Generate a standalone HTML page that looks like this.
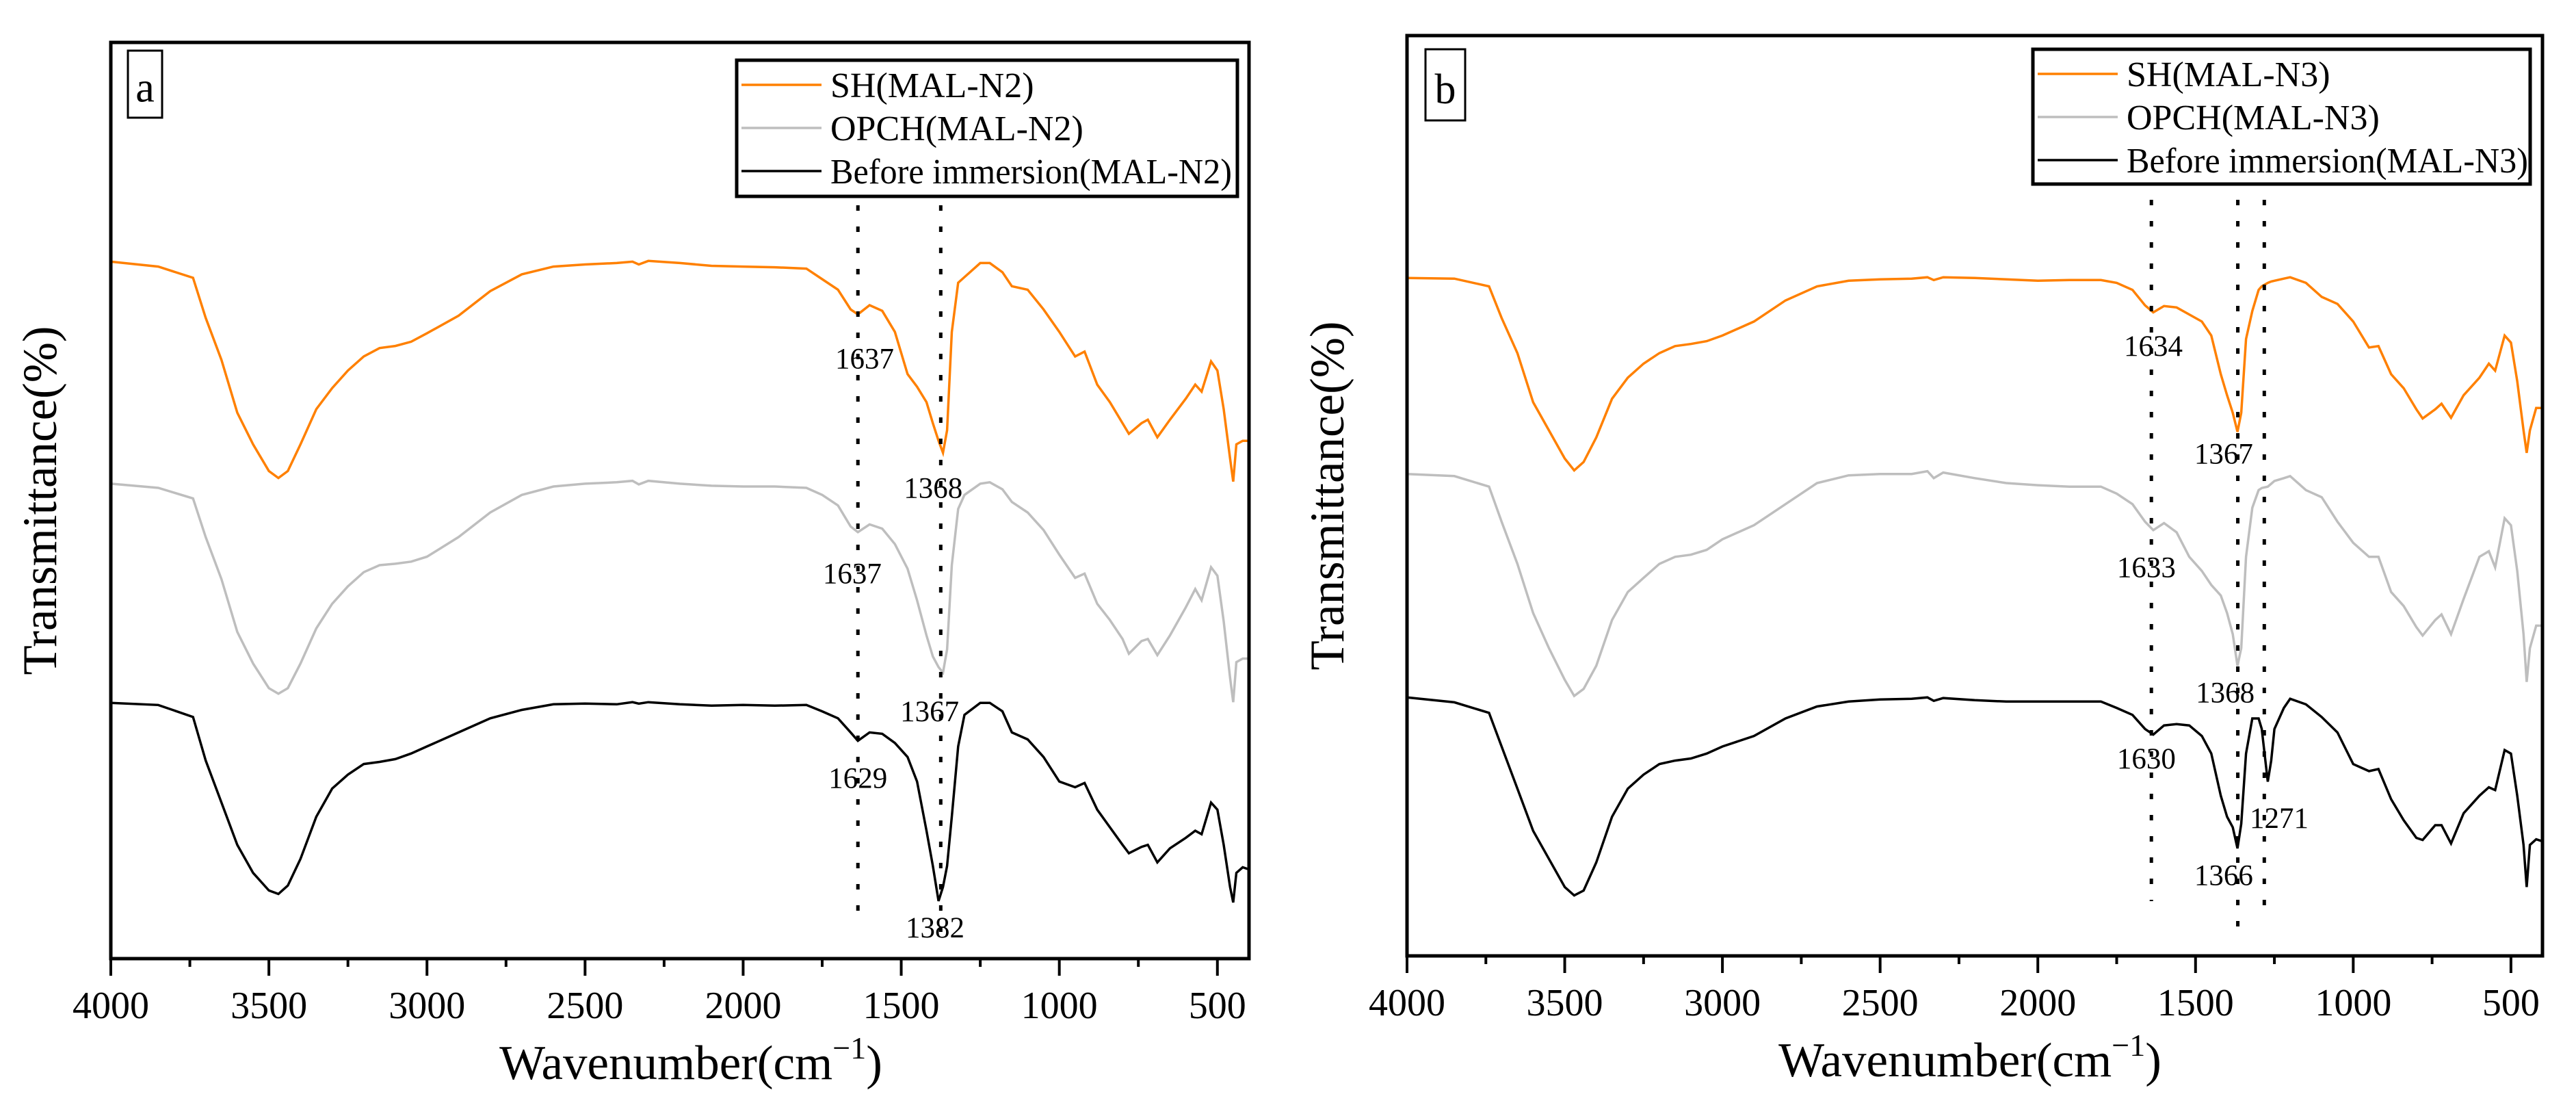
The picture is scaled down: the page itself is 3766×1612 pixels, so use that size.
<!DOCTYPE html>
<html><head><meta charset="utf-8"><style>
html,body{margin:0;padding:0;background:#fff;}
svg{display:block;font-family:"Liberation Serif",serif;}
</style></head><body>
<svg id="chart" width="3766" height="1612" viewBox="0 0 3766 1612" xmlns="http://www.w3.org/2000/svg"></svg>
<script>
// ---------- DATA ----------
const xTicks = [4000,3500,3000,2500,2000,1500,1000,500];
const xMinorTicks = [3750,3250,2750,2250,1750,1250,750];

const waveA = [4000,3850,3740,3700,3650,3600,3550,3500,3470,3440,3400,3350,3300,3250,3200,3150,3100,3050,3000,2900,2800,2700,2600,2500,2400,2350,2330,2300,2200,2100,2000,1900,1800,1750,1700,1660,1637,1600,1560,1520,1480,1450,1420,1400,1382,1368,1355,1340,1320,1300,1250,1220,1180,1150,1100,1050,1000,950,920,880,840,800,780,740,720,690,650,600,570,550,520,500,480,460,450,440,420,400];
const shA = [99.2,98.5,96.9,91.2,85.2,77.7,73.2,69.4,68.4,69.4,73.2,78.2,81.2,83.7,85.7,86.9,87.2,87.8,89.0,91.5,95.0,97.4,98.5,98.8,99.0,99.2,98.8,99.3,99.0,98.6,98.5,98.4,98.2,96.7,95.2,92.4,91.7,93.0,92.2,89.2,83.2,81.4,79.2,76.2,73.7,72.0,75.2,89.2,96.2,97.0,99.0,99.0,97.7,95.7,95.2,92.4,89.2,85.7,86.4,81.7,79.2,76.2,74.7,76.2,76.7,74.2,76.7,79.7,81.7,80.7,85.0,83.7,78.2,71.2,67.9,73.2,73.7,73.7];
const opchA = [67.6,67.0,65.5,60.0,54.0,46.5,42.0,38.5,37.7,38.5,42.0,47.0,50.5,53.0,55.0,56.0,56.2,56.5,57.2,60.0,63.5,66.0,67.2,67.6,67.8,68.0,67.5,68.0,67.6,67.3,67.2,67.2,67.0,66.0,64.5,61.5,60.7,61.8,61.2,59.0,55.5,51.0,46.0,43.0,41.5,40.7,44.0,56.0,64.0,66.0,67.6,67.8,66.8,65.0,63.5,61.0,57.5,54.2,54.8,50.5,48.2,45.5,43.4,45.2,45.5,43.2,46.0,50.0,52.6,51.0,55.7,54.5,48.0,40.0,36.5,42.2,42.7,42.7];
const beforeA = [36.4,36.1,34.4,28.2,22.2,16.2,12.2,9.7,9.2,10.4,14.2,20.2,24.2,26.2,27.7,28.0,28.4,29.2,30.2,32.2,34.2,35.4,36.2,36.3,36.2,36.5,36.3,36.5,36.2,36.0,36.1,36.0,36.1,35.2,34.2,32.2,31.0,32.2,32.0,30.7,28.7,25.2,18.2,13.2,8.2,10.2,13.2,20.2,30.2,34.7,36.4,36.4,35.2,32.2,31.2,28.7,25.2,24.4,25.0,21.2,18.7,16.2,15.0,15.9,16.2,13.7,15.7,17.2,18.2,17.7,22.2,21.2,16.2,10.2,8.0,12.2,13.0,12.7];

const waveB = [4000,3850,3740,3700,3650,3600,3550,3500,3470,3440,3400,3350,3300,3250,3200,3150,3100,3050,3000,2900,2800,2700,2600,2500,2400,2350,2330,2300,2200,2100,2000,1900,1800,1750,1700,1660,1634,1600,1560,1520,1480,1450,1420,1400,1382,1367,1355,1340,1320,1300,1290,1271,1260,1250,1220,1200,1150,1100,1050,1000,950,920,880,840,800,780,740,720,690,650,600,570,550,520,500,480,460,450,440,420,400];
const shB = [96.5,96.4,95.3,90.8,85.8,78.8,74.8,70.8,69.1,70.3,73.8,79.3,82.3,84.3,85.8,86.8,87.1,87.5,88.3,90.3,93.3,95.3,96.1,96.3,96.4,96.6,96.2,96.6,96.5,96.3,96.1,96.2,96.2,95.8,94.8,92.6,91.6,92.5,92.3,91.3,90.3,88.3,82.8,79.8,77.3,74.6,77.3,87.8,91.8,94.8,95.3,95.8,96.0,96.1,96.4,96.6,95.8,93.8,92.8,90.3,86.6,86.8,82.8,80.8,77.8,76.5,77.8,78.6,76.6,79.8,82.3,84.3,83.3,88.3,87.3,81.8,74.8,71.6,74.8,78.0,78.0];
const opchB = [68.6,68.3,66.8,61.8,55.8,48.8,43.8,39.3,37.0,38.0,41.3,47.8,51.8,53.8,55.8,56.8,57.1,57.8,59.3,61.3,64.3,67.3,68.4,68.6,68.6,69.0,68.0,68.8,68.0,67.3,67.0,66.8,66.8,65.8,64.3,61.8,60.6,61.6,60.3,56.8,54.8,52.8,51.3,48.8,45.8,41.3,43.8,56.8,63.8,66.3,66.6,66.8,67.2,67.6,68.0,68.3,66.3,65.3,61.8,58.8,56.8,56.8,51.8,49.8,46.8,45.6,47.8,48.6,45.8,50.8,56.8,57.6,55.3,62.3,61.3,54.8,45.8,39.0,43.8,47.0,47.0];
const beforeB = [36.8,36.1,34.6,29.8,23.8,17.8,13.8,9.8,8.6,9.3,13.3,19.8,23.8,25.8,27.3,27.8,28.1,28.8,29.8,31.3,33.8,35.5,36.2,36.5,36.6,36.8,36.3,36.7,36.4,36.2,36.2,36.2,36.2,35.3,34.3,32.3,31.5,32.8,33.0,32.8,31.3,28.8,22.8,19.8,18.3,15.3,18.8,28.8,33.8,33.8,32.3,24.8,27.8,32.3,35.3,36.6,35.8,34.0,31.8,27.3,26.3,26.6,22.3,19.3,16.8,16.5,18.6,18.6,16.0,20.3,22.8,24.0,23.6,29.3,28.8,22.8,15.8,9.8,15.8,16.6,16.3];

// reference lines (wavenumber) and peak annotations
const refLinesA = [1637,1375];
const refLinesB = [1640,1366,1282];
const peakLabelsA = ["1637","1368","1637","1367","1629","1382"];
const peakWaveA = [1616,1399,1655,1410,1637,1393];
const peakValA = [84.0,65.6,53.4,33.8,24.3,3.0];
const peakLabelsB = ["1634","1367","1633","1368","1630","1271","1366"];
const peakWaveB = [1634,1411,1656,1406,1656,1235,1411];
const peakValB = [85.4,70.1,53.9,36.1,26.7,18.2,10.1];

const seriesNames = ["SH","OPCH","Before immersion"];
const seriesColors = ["#FF8000","#BEBEBE","#000000"];

// ---------- DRAW ----------
const svg = document.getElementById('chart');
const NS = 'http://www.w3.org/2000/svg';
function mk(tag, attrs, parent){
  const e = document.createElementNS(NS, tag);
  for (const k in attrs) e.setAttribute(k, attrs[k]);
  (parent||svg).appendChild(e);
  return e;
}

const panels = [
  {id:'a', L:162, R:1826, T:62, B:1401, vmax:130.4, wave:waveA, series:[shA,opchA,beforeA], suffix:'(MAL-N2)',
   refs:refLinesA, refBottom:[1332,1378], labels:peakLabelsA, lw:peakWaveA, lv:peakValA,
   box:[187,74,50,98], leg:[1077,88,732,199], ytX:82, xtC:1010},
  {id:'b', L:2057, R:3717, T:52, B:1397, vmax:131, wave:waveB, series:[shB,opchB,beforeB], suffix:'(MAL-N3)',
   refs:refLinesB, refBottom:[1317,1356,1327], labels:peakLabelsB, lw:peakWaveB, lv:peakValB,
   box:[2084,72,58,104], leg:[2972,72,727,197], ytX:1964, xtC:2880}
];

panels.forEach(p => {
  const g = mk('g', {});
  
  
  const xs = w => p.L + (4000 - w) * (p.R - p.L) / 3600;
  const ys = v => p.B - v / p.vmax * (p.B - p.T);

  p.series.forEach((vals, si) => {
    const d = p.wave.map((w,i) => (i ? 'L' : 'M') + xs(w).toFixed(1) + ' ' + ys(vals[i]).toFixed(1)).join(' ');
    const path = mk('path', {d:d, fill:'none', stroke:seriesColors[si], 'stroke-width':3.5, 'stroke-linejoin':'miter'}, g);
    
    
  });

  p.refs.forEach((w, i) => {
    const ln = mk('line', {x1:xs(w), x2:xs(w), y1:p.refs.length===2?300:292, y2:p.refBottom[i], stroke:'#000', 'stroke-width':5, 'stroke-dasharray':'8 23'}, g);
    
    
  });

  p.labels.forEach((t, i) => {
    const tx = mk('text', {x:xs(p.lw[i]), y:ys(p.lv[i]), 'font-size':43, 'text-anchor':'middle', fill:'#000'}, g);
    tx.textContent = t;
    
    
  });

  const fr = mk('rect', {x:p.L, y:p.T, width:p.R-p.L, height:p.B-p.T, fill:'none', stroke:'#000', 'stroke-width':5}, g);
  
  

  xTicks.forEach(w => {
    const t = mk('line', {x1:xs(w), x2:xs(w), y1:p.B, y2:p.B+25, stroke:'#000', 'stroke-width':4}, g);
    
    
    const lb = mk('text', {x:xs(w), y:p.B+87, 'font-size':56, 'text-anchor':'middle', fill:'#000'}, g);
    lb.textContent = w;
    
    
  });
  xMinorTicks.forEach(w => {
    const t = mk('line', {x1:xs(w), x2:xs(w), y1:p.B, y2:p.B+12, stroke:'#000', 'stroke-width':4}, g);
    
    
  });

  const xt = mk('text', {x:p.xtC, y:p.B+176, 'font-size':71, 'text-anchor':'middle', fill:'#000'}, g);
  
  
  xt.appendChild(document.createTextNode('Wavenumber(cm'));
  const sup = mk('tspan', {'font-size':46, dy:-30}, xt);
  sup.textContent = '\u22121';
  const cl = mk('tspan', {dy:30}, xt);
  cl.textContent = ')';

  const ycy = (p.T + p.B) / 2;
  const yt = mk('text', {x:p.ytX, y:ycy, 'font-size':71, 'text-anchor':'middle', fill:'#000', transform:'rotate(-90 ' + p.ytX + ' ' + ycy + ')'}, g);
  yt.textContent = 'Transmittance(%)';
  
  

  const bx = mk('rect', {x:p.box[0], y:p.box[1], width:p.box[2], height:p.box[3], fill:'none', stroke:'#000', 'stroke-width':3}, g);
  
  
  const bt = mk('text', {x:p.box[0]+p.box[2]/2, y:p.box[1]+p.box[3]*0.76, 'font-size':62, 'text-anchor':'middle', fill:'#000'}, g);
  bt.textContent = p.id;
  
  

  const [lx, ly, lwid, lh] = p.leg;
  const lg = mk('g', {}, g);
  
  
  const lr = mk('rect', {x:lx, y:ly, width:lwid, height:lh, fill:'#fff', stroke:'#000', 'stroke-width':5}, lg);
  
  
  seriesNames.forEach((n, i) => {
    const ry = ly + 36 + i * 63;
    const ll = mk('line', {x1:lx+7, x2:lx+124, y1:ry, y2:ry, stroke:seriesColors[i], 'stroke-width':3.5}, lg);
    
    
    const full = n + p.suffix;
    const lt = mk('text', {x:lx+137, y:ry+18, 'font-size':52, fill:'#000'}, lg);
    if (i === 2) { lt.setAttribute('textLength', 587); lt.setAttribute('lengthAdjust', 'spacingAndGlyphs'); }
    lt.textContent = full;
    
    
  });
});
</script>
</body></html>
